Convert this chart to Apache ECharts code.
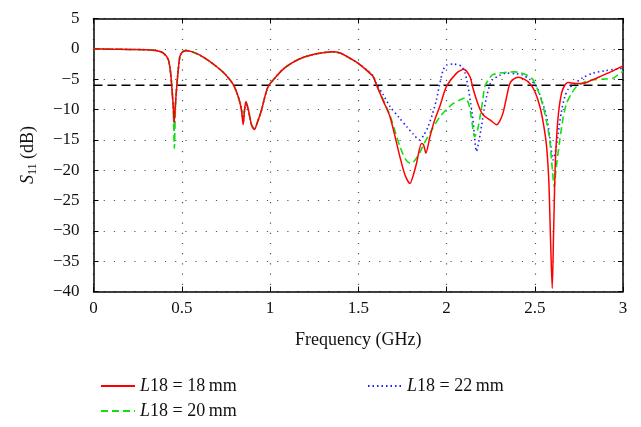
<!DOCTYPE html>
<html>
<head>
<meta charset="utf-8">
<script src="https://cdn.jsdelivr.net/npm/echarts@6/dist/echarts.min.js"></script>
<style>html,body{margin:0;padding:0;background:#fff}#c{width:641px;height:427px}</style>
</head>
<body>
<div id="c"></div>
<script>
var xTicks = [0, 0.5, 1, 1.5, 2, 2.5, 3];
var yTicks = [5, 0, -5, -10, -15, -20, -25, -30, -35, -40];
var threshold = [[0, -6], [3, -6]];
var names = ['L18 = 18 mm', 'L18 = 20 mm', 'L18 = 22 mm'];

var red18 = [[0,0],[0.1,-0.05],[0.2,-0.1],[0.3,-0.15],[0.36,-0.3],[0.396,-0.7],[0.424,-1.8],[0.437,-4.0],[0.445,-6.8],[0.452,-9.5],[0.457,-12.2],[0.463,-9.5],[0.47,-6.8],[0.48,-3.5],[0.49,-1.2],[0.505,-0.5],[0.528,-0.3],[0.56,-0.5],[0.6,-1.0],[0.65,-1.9],[0.7,-3.0],[0.75,-4.3],[0.792,-5.9],[0.82,-7.9],[0.838,-10],[0.848,-12.5],[0.856,-10],[0.864,-8.7],[0.877,-10],[0.895,-12.5],[0.911,-13.3],[0.93,-12],[0.953,-10],[0.97,-8],[0.99,-6.2],[1.028,-4.8],[1.075,-3.35],[1.12,-2.4],[1.18,-1.5],[1.25,-0.9],[1.3,-0.65],[1.35,-0.5],[1.397,-0.7],[1.45,-1.5],[1.5,-2.4],[1.55,-3.6],[1.585,-4.6],[1.604,-6],[1.64,-8.5],[1.68,-11.2],[1.736,-17.8],[1.765,-20.8],[1.793,-22.2],[1.81,-21],[1.83,-18.9],[1.858,-15.6],[1.87,-15.8],[1.883,-17.2],[1.906,-14.5],[1.93,-12],[1.962,-9.5],[2.0,-6.2],[2.057,-4.0],[2.098,-3.35],[2.133,-4.6],[2.15,-6.5],[2.17,-8.4],[2.19,-10],[2.208,-10.9],[2.25,-11.8],[2.284,-12.5],[2.3,-12],[2.32,-10.6],[2.34,-8],[2.359,-5.7],[2.38,-5],[2.406,-4.7],[2.44,-5],[2.472,-5.7],[2.5,-7],[2.529,-9.5],[2.55,-12.5],[2.567,-16.1],[2.58,-22],[2.59,-32],[2.599,-39.5],[2.607,-30],[2.615,-20],[2.623,-15],[2.635,-10.5],[2.652,-7.3],[2.67,-6],[2.689,-5.55],[2.73,-5.7],[2.774,-5.7],[2.82,-5.2],[2.868,-4.6],[2.93,-3.8],[3.0,-2.8]];

var green20 = [[0,0],[0.1,-0.05],[0.2,-0.1],[0.3,-0.15],[0.36,-0.3],[0.396,-0.7],[0.424,-1.8],[0.437,-4.0],[0.445,-6.8],[0.452,-10],[0.458,-16.4],[0.464,-10],[0.47,-6.8],[0.48,-3.5],[0.49,-1.2],[0.505,-0.5],[0.528,-0.3],[0.56,-0.5],[0.6,-1.0],[0.65,-1.9],[0.7,-3.0],[0.75,-4.3],[0.792,-5.9],[0.82,-7.9],[0.838,-10],[0.848,-12],[0.856,-10],[0.864,-8.9],[0.877,-10],[0.895,-12.5],[0.911,-13.2],[0.93,-12],[0.953,-10],[0.97,-8],[0.99,-6.2],[1.028,-4.8],[1.075,-3.35],[1.12,-2.4],[1.18,-1.5],[1.25,-0.9],[1.3,-0.65],[1.35,-0.5],[1.397,-0.7],[1.45,-1.5],[1.5,-2.4],[1.55,-3.6],[1.585,-4.6],[1.604,-6],[1.64,-8.3],[1.68,-11],[1.736,-16.1],[1.77,-18.3],[1.8,-18.9],[1.82,-18.4],[1.847,-17.2],[1.875,-15.5],[1.906,-13.9],[1.962,-11.2],[2.0,-10],[2.038,-9],[2.07,-8.5],[2.104,-8.1],[2.125,-9],[2.14,-11.2],[2.16,-14.5],[2.175,-13.5],[2.19,-11.2],[2.205,-8.5],[2.217,-6.2],[2.24,-5],[2.26,-4.3],[2.3,-4.0],[2.34,-3.85],[2.38,-3.8],[2.415,-3.9],[2.46,-4.4],[2.49,-5.1],[2.52,-7],[2.548,-9.5],[2.57,-12.5],[2.585,-15],[2.6,-20],[2.61,-22.7],[2.62,-20],[2.642,-15],[2.66,-11.5],[2.68,-9],[2.71,-7.3],[2.737,-6.2],[2.78,-5.5],[2.831,-5.1],[2.89,-5],[2.944,-4.85],[2.97,-4.3],[3.0,-3.7]];

var blue22 = [[0,0],[0.1,-0.05],[0.2,-0.1],[0.3,-0.15],[0.36,-0.3],[0.396,-0.7],[0.424,-1.8],[0.437,-4.0],[0.445,-6.8],[0.452,-9.8],[0.457,-13.4],[0.463,-9.8],[0.47,-6.8],[0.48,-3.5],[0.49,-1.2],[0.505,-0.5],[0.528,-0.3],[0.56,-0.5],[0.6,-1.0],[0.65,-1.9],[0.7,-3.0],[0.75,-4.3],[0.792,-5.9],[0.82,-7.9],[0.838,-10],[0.848,-12.2],[0.856,-10],[0.864,-8.8],[0.877,-10],[0.895,-12.5],[0.911,-13.3],[0.93,-12],[0.953,-10],[0.97,-8],[0.99,-6.2],[1.028,-4.8],[1.075,-3.35],[1.12,-2.4],[1.18,-1.5],[1.25,-0.9],[1.3,-0.65],[1.35,-0.5],[1.397,-0.7],[1.45,-1.5],[1.5,-2.4],[1.55,-3.5],[1.585,-4.5],[1.604,-5.8],[1.64,-7.5],[1.68,-9.5],[1.73,-11.3],[1.774,-12.8],[1.81,-14],[1.847,-15],[1.87,-14.3],[1.896,-12.8],[1.92,-10.8],[1.943,-8.4],[1.96,-6],[1.981,-3.5],[2.0,-2.7],[2.038,-2.5],[2.085,-2.9],[2.105,-4],[2.122,-6.2],[2.137,-9],[2.15,-11.7],[2.17,-16.9],[2.185,-15],[2.198,-12.8],[2.212,-10.2],[2.227,-7.9],[2.245,-6],[2.26,-5.1],[2.3,-4.4],[2.34,-4.0],[2.39,-4.1],[2.43,-4.3],[2.47,-5],[2.51,-6.2],[2.54,-8.5],[2.567,-11.2],[2.585,-14.5],[2.604,-18.3],[2.62,-16.5],[2.633,-13.9],[2.65,-10.5],[2.67,-7.9],[2.69,-6.6],[2.718,-5.9],[2.77,-4.8],[2.831,-4.0],[2.9,-3.6],[3.0,-3.2]];

var FONT = '"Liberation Serif", "DejaVu Serif", serif';
var minus = function (v) { return String(v).replace('-', '\u2212'); };
var legendFmt = function (n) { return '{i|L}{t|' + n.slice(1).replace(' mm', '\u2009mm') + '}'; };
var legendRich = {
  i: { fontFamily: FONT, fontStyle: 'italic', fontSize: 18, color: '#111' },
  t: { fontFamily: FONT, fontSize: 18, color: '#111' }
};

var chart = echarts.init(document.getElementById('c'), null, { renderer: 'canvas' });
chart.setOption({
  animation: false,
  backgroundColor: '#fff',
  grid: { left: 93.5, right: 18, top: 18.5, bottom: 135.5, show: false },
  legend: [
    { data: [names[0], names[1]], orient: 'vertical', left: 95, top: 372, itemWidth: 34, itemHeight: 10, itemGap: 7,
      itemStyle: { opacity: 0 }, formatter: legendFmt, textStyle: { rich: legendRich } },
    { data: [names[2]], orient: 'vertical', left: 362, top: 372, itemWidth: 34, itemHeight: 10,
      itemStyle: { opacity: 0 }, formatter: legendFmt, textStyle: { rich: legendRich } }
  ],
  xAxis: [{
    type: 'value', min: xTicks[0], max: xTicks[xTicks.length - 1], interval: 0.5,
    name: 'Frequency (GHz)', nameLocation: 'middle', nameGap: 40,
    nameTextStyle: { fontFamily: FONT, fontSize: 18, color: '#111' },
    axisLine: { show: true, onZero: false, lineStyle: { color: '#000', width: 1.5 } },
    axisTick: { show: true, inside: true, length: 5, lineStyle: { color: '#000' } },
    axisLabel: { fontFamily: FONT, fontSize: 17, color: '#111', margin: 9 },
    splitLine: { show: true, lineStyle: { color: '#555', type: [1.2, 9], width: 1.2 } }
  }, {
    type: 'value', position: 'top', min: xTicks[0], max: xTicks[xTicks.length - 1], interval: 0.5,
    axisLine: { show: true, onZero: false, lineStyle: { color: '#000', width: 1.5 } },
    axisTick: { show: true, inside: true, length: 5, lineStyle: { color: '#000' } },
    axisLabel: { show: false }, splitLine: { show: false }
  }],
  yAxis: [{
    type: 'value', min: yTicks[yTicks.length - 1], max: yTicks[0], interval: 5,
    name: '{i|S}{s|11} (dB)', nameLocation: 'middle', nameGap: 55, nameRotate: 90,
    nameTextStyle: { fontFamily: FONT, fontSize: 18, color: '#111',
      rich: { i: { fontFamily: FONT, fontStyle: 'italic', fontSize: 18, color: '#111' },
              s: { fontFamily: FONT, fontSize: 12, color: '#111', verticalAlign: 'bottom', padding: [8, 0, 0, 0] } } },
    axisLine: { show: true, onZero: false, lineStyle: { color: '#000', width: 1.5 } },
    axisTick: { show: true, inside: true, length: 5, lineStyle: { color: '#000' } },
    axisLabel: { fontFamily: FONT, fontSize: 17, color: '#111', margin: 14, formatter: minus },
    splitLine: { show: true, lineStyle: { color: '#555', type: [1.2, 9], width: 1.2 } }
  }, {
    type: 'value', position: 'right', min: yTicks[yTicks.length - 1], max: yTicks[0], interval: 5,
    axisLine: { show: true, onZero: false, lineStyle: { color: '#000', width: 1.5 } },
    axisTick: { show: true, inside: true, length: 5, lineStyle: { color: '#000' } },
    axisLabel: { show: false }, splitLine: { show: false }
  }],
  series: [
    { name: 'threshold', type: 'line', data: threshold, symbol: 'none', silent: true,
      lineStyle: { color: '#000', width: 1.5, type: [9, 5] }, z: 1 },
    { name: names[2], type: 'line', data: blue22, symbol: 'none', smooth: 0.25,
      itemStyle: { color: '#2020ff' }, lineStyle: { color: '#2020ff', width: 1.6, type: [1.5, 3] }, z: 3 },
    { name: names[1], type: 'line', data: green20, symbol: 'none', smooth: 0.25,
      itemStyle: { color: '#10e010' }, lineStyle: { color: '#10e010', width: 1.6, type: [7, 4] }, z: 4 },
    { name: names[0], type: 'line', data: red18, symbol: 'none', smooth: 0.25,
      itemStyle: { color: '#ff0000' }, lineStyle: { color: '#ff0000', width: 1.5 }, z: 5 }
  ]
});
</script>
</body>
</html>
